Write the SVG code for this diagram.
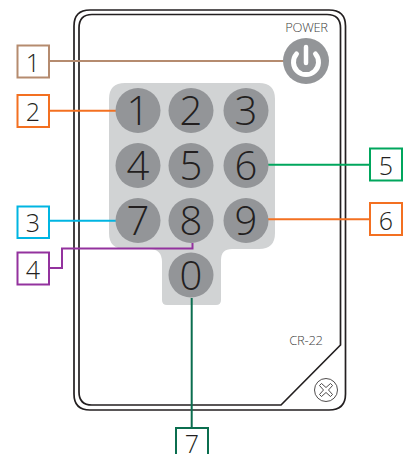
<svg xmlns="http://www.w3.org/2000/svg" width="412" height="454" viewBox="0 0 412 454">
<style>
text{font-family:"Open Sans","Liberation Sans",sans-serif;fill:#231f20;text-anchor:middle}
.k{font-size:40px;font-weight:300}
.l{font-size:25px;font-weight:300}
.s{font-size:13px;letter-spacing:-0.300px;fill:#3f3f41;font-weight:300}
.b{fill:#939598}
.box{fill:#fff;stroke-width:2}
.c{fill:none;stroke-width:2}
.o{fill:none;stroke:#231f20;stroke-width:1.700}
</style>
<rect width="412" height="454" fill="#fff"/>
<g id="remote">
<path class="o" d="M90 10H329Q345.500 10 345.500 26V394Q345.500 410 329 410H90Q74 410 74 394V26Q74 10 90 10Z"/>
<path class="o" d="M92 14.500H327Q340.500 14.500 340.500 28V345L281 405H92Q79 405 79 392V28Q79 14.500 92 14.500Z"/>
<path fill="#d1d3d4" d="M125 83H259Q275 83 275 99V233Q275 249 259 249H232Q221 249 221 260V300Q221 305 216 305H167Q162 305 162 300V262Q162 249 149 249H125Q109 249 109 233V99Q109 83 125 83Z"/>
<circle cx="326" cy="390" r="11.500" fill="none" stroke="#231f20" stroke-width="0.800"/>
<path fill="none" stroke="#231f20" stroke-width="0.800" d="M319.500 385.500L321.500 383.500L326 387.500L330.500 383.500L332.500 385.500L328.500 390L332.500 394.500L330.500 396.500L326 392.500L321.500 396.500L319.500 394.500L323.500 390Z"/>
<text class="s" x="306.500" y="32">POWER</text>
<text class="s" x="306" y="345">CR-22</text>
</g>
<g id="connectors">
<path class="c" stroke="#b58b6f" d="M49 61H290"/>
<path class="c" stroke="#f37021" d="M49 110.700H116"/>
<path class="c" stroke="#00b5e2" d="M49 220.700H116"/>
<path class="c" stroke="#93329e" d="M49 268H62V248.500H192.500V243"/>
<path class="c" stroke="#00a65d" d="M268 164.700H371"/>
<path class="c" stroke="#f37021" d="M268 219.300H371"/>
<path class="c" stroke="#0b6e4f" d="M191.700 298V428"/>
</g>
<g id="power"><circle class="b" cx="306" cy="61" r="23"/>
<path fill="none" stroke="#fff" stroke-width="5" stroke-linecap="round" d="M296.500 54A12.500 12.500 0 1 0 315.500 54"/>
<path fill="none" stroke="#fff" stroke-width="4.500" stroke-linecap="round" d="M306 47V63"/></g>
<g id="key1"><circle class="b" cx="138" cy="110.500" r="22.500"/><text class="k" x="138" y="125">1</text></g>
<g id="key2"><circle class="b" cx="191" cy="110.500" r="22.500"/><text class="k" x="191" y="125">2</text></g>
<g id="key3"><circle class="b" cx="246" cy="110.500" r="22.500"/><text class="k" x="246" y="125">3</text></g>
<g id="key4"><circle class="b" cx="138" cy="165.500" r="22.500"/><text class="k" x="138" y="180">4</text></g>
<g id="key5"><circle class="b" cx="191" cy="165.500" r="22.500"/><text class="k" x="191" y="180">5</text></g>
<g id="key6"><circle class="b" cx="246" cy="165.500" r="22.500"/><text class="k" x="246" y="180">6</text></g>
<g id="key7"><circle class="b" cx="138" cy="220.500" r="22.500"/><text class="k" x="138" y="235">7</text></g>
<g id="key8"><circle class="b" cx="191" cy="220.500" r="22.500"/><text class="k" x="191" y="235">8</text></g>
<g id="key9"><circle class="b" cx="246" cy="220.500" r="22.500"/><text class="k" x="246" y="235">9</text></g>
<g id="key0"><circle class="b" cx="191" cy="275" r="22.500"/><text class="k" x="191" y="289.500">0</text></g>
<g id="label1"><rect class="box" stroke="#b58b6f" x="17.500" y="45.500" width="31.500" height="32"/><text class="l" x="33" y="71.500">1</text></g>
<g id="label2"><rect class="box" stroke="#f37021" x="17.500" y="95" width="31.500" height="32"/><text class="l" x="33" y="120.500">2</text></g>
<g id="label3"><rect class="box" stroke="#00b5e2" x="17.500" y="206.500" width="31.500" height="31.500"/><text class="l" x="33" y="232">3</text></g>
<g id="label4"><rect class="box" stroke="#93329e" x="17.500" y="252.500" width="31.500" height="32"/><text class="l" x="33" y="278.500">4</text></g>
<g id="label5"><rect class="box" stroke="#00a65d" x="370" y="148.500" width="32" height="32"/><text class="l" x="386" y="175">5</text></g>
<g id="label6"><rect class="box" stroke="#f37021" x="370" y="203" width="32" height="32"/><text class="l" x="386" y="229.500">6</text></g>
<g id="label7"><rect class="box" stroke="#0b6e4f" x="176" y="428" width="32" height="32"/><text class="l" x="192" y="453">7</text></g>
</svg>
